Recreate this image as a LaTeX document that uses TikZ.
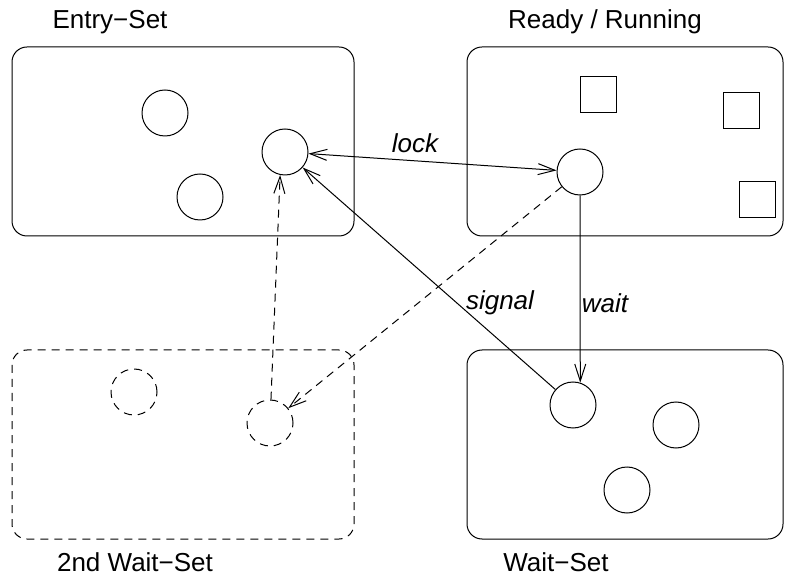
\documentclass[tikz,border=0pt]{standalone}
\usepackage{fontspec}
\setmainfont{Liberation Sans}
\usetikzlibrary{arrows.meta}

\begin{document}
\begin{tikzpicture}[x=0.5pt,y=-0.5pt,line width=0.5pt,
  every node/.style={font=\fontsize{13}{15}\selectfont,inner sep=1pt},
  set/.style={draw,rounded corners=7.5pt},
  thr/.style={draw,circle,minimum size=23pt,inner sep=0pt},
  obj/.style={draw,minimum size=18pt,inner sep=0pt},
  dsh/.style={dash pattern=on 4pt off 3pt},
  >={Straight Barb[length=8.5pt,width=5.5pt]}]
\useasboundingbox (0,0) rectangle (795,581);
% the four sets
\draw[set] (12,47) rectangle (354,236);
\draw[set] (467,47) rectangle (783,236);
\draw[set,dsh] (12,350) rectangle (354,539);
\draw[set] (467,350) rectangle (783,539);
\node at (110,22) {Entry−Set};
\node at (605,22) {Ready / Running};
\node at (135,562) {2nd Wait−Set};
\node at (556,562) {Wait−Set};
% threads
\node[thr] (e1) at (165,113) {};
\node[thr] (e2) at (200,197) {};
\node[thr] (e3) at (285,152) {};
\node[thr] (run) at (580,172) {};
\node[obj] (o1) at (598,95) {};
\node[obj] (o2) at (741,111) {};
\node[obj] (o3) at (757,200) {};
\node[thr] (w1) at (573,405) {};
\node[thr] (w2) at (676,425) {};
\node[thr] (w3) at (627,490) {};
\node[thr,dsh] (d1) at (134,392) {};
\node[thr,dsh] (d2) at (270,423) {};
% transitions
\draw[<->] (e3) -- (run);
\draw[->] (run) -- (w1.72);
\draw[->] (w1) -- (e3);
\draw[->,dsh] (run) -- (d2);
\draw[->,dsh] (d2) -- (e3.258);
\node at (415,143) {\itshape lock};
\node at (605,303) {\itshape wait};
\node at (500,303) {\itshape signal};
\end{tikzpicture}
\end{document}
